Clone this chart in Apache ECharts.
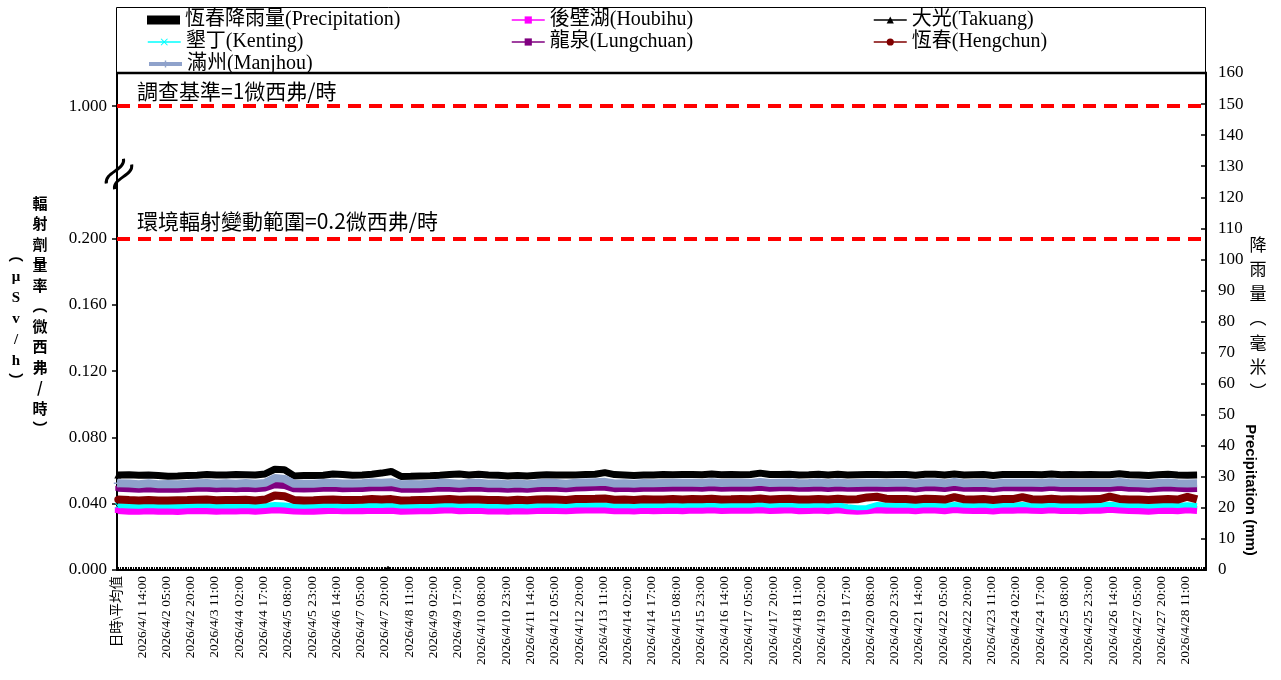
<!DOCTYPE html>
<html><head><meta charset="utf-8">
<script src="https://cdn.jsdelivr.net/npm/echarts@6/dist/echarts.min.js"></script>
<style>html,body{margin:0;padding:0;background:#fff}#c{width:1281px;height:680px}</style>
</head><body><div id="c"></div>
<script>
// ---------- categories / tick labels ----------
const firstCategory = '日時\\平均值';
const yearMonth = '2026/4/';
const days = [1,2,3,4,5,6,7,8,9,10,11,12,13,14,15,16,17,18,19,20,21,22,23,24,25,26,27,28];
const hourLabels = ['00:00','01:00','02:00','03:00','04:00','05:00','06:00','07:00','08:00','09:00','10:00','11:00',
  '12:00','13:00','14:00','15:00','16:00','17:00','18:00','19:00','20:00','21:00','22:00','23:00'];
const sampleHours = ['00:00','06:00','12:00','18:00'];
const leftTickValues = [0,40,80,120,160,200,280];          // nSv/h positions of left ticks (280 = broken-axis "1.000")
const leftTickLabels = ['0.000','0.040','0.080','0.120','0.160','0.200','1.000'];

// ---------- series names ----------
const nameRain = '恆春降雨量(Precipitation)';
const nameHoubihu = '後壁湖(Houbihu)';
const nameTakuang = '大光(Takuang)';
const nameKenting = '墾丁(Kenting)';
const nameLungchuan = '龍泉(Lungchuan)';
const nameHengchun = '恆春(Hengchun)';
const nameManjhou = '滿州(Manjhou)';

// ---------- values (nSv/h, i.e. µSv/h × 1000), 4 readings per day 4/1 … 4/28 ----------
const avgValues = [36.2, 57.4, 39.0, 49.3, 42.6, 52.4]; // Houbihu, Takuang, Kenting, Lungchuan, Hengchun, Manjhou
const houbihu = [
36.0,35.8,35.7,36.1, 35.8,35.9,35.6,36.0, 36.2,36.1,35.8,36.0, 35.9,36.2,35.8,36.2, 36.6,36.4,35.9,35.7,
35.8,36.1,36.3,36.0, 36.0,36.1,36.4,36.2, 36.4,35.8,35.9,36.1, 36.0,36.4,36.6,36.1, 36.2,36.3,35.9,36.0,
35.8,36.1,35.9,36.2, 36.4,36.2,36.0,36.4, 36.5,36.6,36.5,36.0, 36.2,35.9,36.3,36.1, 36.2,36.4,36.1,36.5,
36.3,36.6,36.2,36.3, 36.5,36.3,36.7,36.2, 36.4,36.6,36.1,36.2, 36.5,36.1,36.6,36.0, 35.8,36.0,36.7,36.4,
36.3,36.5,36.0,36.6, 36.5,36.1,36.8,36.3, 36.2,36.4,35.9,36.5, 36.4,36.7,36.3,36.2, 36.6,36.2,36.3,36.1,
36.3,36.4,36.9,36.5, 36.2,36.1,35.8,36.2, 36.4,36.1,36.6,36.2];
const takuang = [
57.6,57.5,57.2,57.3, 57.0,56.6,56.7,57.0, 57.2,57.6,57.3,57.4, 57.6,57.5,57.4,58.0, 60.8,60.5,56.8,57.0,
57.0,57.2,58.0,57.6, 57.2,57.4,57.8,58.5, 59.5,56.5,56.6,56.8, 56.9,57.2,57.6,58.0, 57.3,57.8,57.3,57.2,
56.8,57.1,56.7,57.2, 57.5,57.4,57.3,57.4, 57.6,57.8,58.8,57.6, 57.4,57.0,57.3,57.4, 57.6,57.5,57.6,57.7,
57.5,57.9,57.5,57.6, 57.5,57.6,58.5,57.6, 57.7,57.8,57.4,57.5, 57.8,57.3,57.8,57.4, 57.5,57.6,57.6,57.5,
57.6,57.7,57.2,57.8, 57.8,57.3,57.9,57.4, 57.5,57.6,57.1,57.7, 57.7,57.6,57.6,57.5, 58.0,57.5,57.6,57.5,
57.6,57.5,57.5,58.1, 57.5,57.4,57.0,57.5, 57.8,57.4,57.2,57.3];
const kenting = [
38.8,38.6,38.5,38.9, 38.6,38.7,38.5,38.8, 39.0,38.9,38.6,38.8, 38.7,39.0,38.6,39.0, 39.5,39.2,38.7,38.5,
38.6,38.9,39.0,38.7, 38.8,38.9,39.1,39.0, 39.2,38.6,38.7,38.9, 38.8,39.2,39.4,38.9, 39.0,39.1,38.7,38.8,
38.6,38.9,38.7,39.0, 39.2,39.0,38.8,39.2, 39.3,39.4,39.3,38.8, 39.0,38.7,39.1,38.9, 39.0,39.2,38.9,39.3,
39.1,39.4,39.0,39.1, 39.3,39.1,39.5,39.0, 39.2,39.4,38.9,39.0, 39.3,38.9,39.4,38.2, 37.6,37.8,39.5,39.2,
39.1,39.3,38.8,39.4, 39.3,38.9,39.6,39.1, 39.0,39.2,38.7,39.3, 39.2,39.5,39.1,39.0, 39.4,39.0,39.1,38.9,
39.1,39.2,39.7,39.3, 39.0,38.9,38.6,39.0, 39.2,38.9,39.4,39.0];
const lungchuan = [
49.2,49.0,48.8,49.1, 48.8,48.9,48.7,49.0, 49.3,49.4,49.0,49.3, 49.0,49.4,49.0,49.5, 51.5,51.0,49.0,48.9,
49.0,49.4,49.5,49.1, 49.2,49.2,49.6,49.6, 49.8,48.8,48.9,48.8, 49.0,49.5,49.4,49.0, 49.4,49.5,49.0,49.1,
48.8,49.1,48.7,49.2, 49.5,49.4,49.0,49.5, 49.7,49.9,50.0,49.1, 49.3,49.0,49.4,49.3, 49.4,49.5,49.5,49.6,
49.4,49.8,49.4,49.5, 49.6,49.5,50.0,49.4, 49.6,49.7,49.3,49.4, 49.7,49.2,49.7,49.3, 49.4,49.5,49.5,49.4,
49.5,49.6,49.1,49.7, 49.7,49.2,50.0,49.3, 49.4,49.5,49.0,49.6, 49.6,49.5,49.5,49.4, 49.9,49.4,49.5,49.4,
49.5,49.4,49.4,50.0, 49.4,49.3,48.9,49.4, 49.7,49.3,49.1,49.2];
const hengchun = [
42.4,42.2,42.0,42.3, 42.0,41.9,42.1,42.2, 42.4,42.5,42.1,42.3, 42.2,42.4,42.0,42.5, 45.0,44.5,42.3,42.0,
42.1,42.4,42.6,42.3, 42.2,42.4,42.8,42.6, 42.8,42.0,42.1,42.3, 42.2,42.6,42.9,42.4, 42.5,42.6,42.2,42.3,
42.0,42.4,42.1,42.5, 42.7,42.5,42.3,42.8, 42.9,43.0,43.2,42.4, 42.6,42.2,42.7,42.5, 42.6,42.8,42.5,42.9,
42.7,43.0,42.6,42.7, 42.9,42.7,43.2,42.6, 42.8,43.0,42.5,42.6, 42.9,42.5,43.0,42.6, 42.7,43.8,44.2,43.0,
42.8,42.9,42.4,43.0, 42.9,42.5,44.0,42.7, 42.6,42.8,42.3,42.9, 42.8,44.0,42.7,42.6, 43.0,42.6,42.7,42.5,
42.7,42.8,44.3,42.9, 42.6,42.5,42.2,42.6, 42.8,42.5,44.2,42.6];
const manjhou = [
52.4,52.2,51.8,52.3, 51.8,51.9,51.8,52.0, 52.4,52.5,52.0,52.4, 52.1,52.5,52.0,52.6, 55.5,55.0,52.0,52.0,
52.0,52.5,52.6,52.2, 52.2,52.3,52.8,52.7, 53.0,51.8,51.9,51.8, 52.0,52.6,52.5,52.0, 52.5,52.6,52.1,52.2,
51.8,52.2,51.7,52.3, 52.6,52.5,52.1,52.6, 52.8,53.0,53.2,52.2, 52.4,52.0,52.5,52.4, 52.5,52.6,52.6,52.7,
52.5,52.9,52.5,52.6, 52.7,52.6,53.2,52.5, 52.7,52.8,52.4,52.5, 52.8,52.3,52.8,52.4, 52.5,52.6,52.6,52.5,
52.6,52.7,52.2,52.8, 52.8,52.3,53.2,52.4, 52.5,52.6,52.1,52.7, 52.7,52.6,52.6,52.5, 53.0,52.5,52.6,52.5,
52.6,52.5,52.5,53.1, 52.5,52.4,52.0,52.5, 52.8,52.4,52.2,52.3];
// precipitation (mm), Hengchun
const rainTimes = ['2026/4/5 04:00','2026/4/5 05:00','2026/4/7 21:00','2026/4/7 22:00'];
const rainValues = [0.3, 0.5, 0.8, 1.2];

// reference lines (left axis positions, nSv/h scale)
const refLineValues = [280, 200];
const refLineTexts = ['調查基準=1微西弗/時', '環境輻射變動範圍=0.2微西弗/時'];

// ---------- build category axis and data pairs ----------
const categories = [firstCategory];
days.forEach(d => hourLabels.forEach(h => categories.push(yearMonth + d + ' ' + h)));
function pairs(values, avg) {
  const out = [[firstCategory, avg]];
  values.forEach((v, i) => {
    out.push([yearMonth + days[Math.floor(i / sampleHours.length)] + ' ' + sampleHours[i % sampleHours.length], v]);
  });
  return out;
}
const rainData = rainTimes.map((t, i) => [t, rainValues[i]]);

const SERIF = "'Liberation Serif', 'Noto Sans CJK TC', serif";
const CJK = "'Noto Sans CJK TC', sans-serif";
const plusPath = 'path://M4,0H6V4H10V6H6V10H4V6H0V4H4Z';
const xPath = 'path://M1,0L5,4L9,0L10,1L6,5L10,9L9,10L5,6L1,10L0,9L4,5L0,1Z';

function lineSeries(name, data, color, symbol, symbolSize, width, z) {
  return {
    name, type: 'line', xAxisIndex: 0, yAxisIndex: 0, data,
    symbol, symbolSize, showSymbol: true, z,
    lineStyle: { color, width }, itemStyle: { color },
    emphasis: { disabled: true }
  };
}

const series = [
  { name: nameRain, type: 'bar', yAxisIndex: 1, data: rainData, barWidth: 2,
    itemStyle: { color: '#000' }, z: 2, emphasis: { disabled: true } },
  Object.assign(lineSeries(nameHoubihu, pairs(houbihu, avgValues[0]), '#FF00FF', 'rect', 6, 8, 3), {
    markLine: {
      silent: true, symbol: ['none', 'none'], label: { show: false }, animation: false,
      lineStyle: { color: '#FF0000', width: 4, type: [13, 8] },
      data: refLineValues.map(v => ({ yAxis: v }))
    }
  }),
  lineSeries(nameTakuang, pairs(takuang, avgValues[1]), '#000000', 'triangle', 7, 7, 4),
  lineSeries(nameKenting, pairs(kenting, avgValues[2]), '#00FFFF', xPath, 6, 5, 5),
  lineSeries(nameLungchuan, pairs(lungchuan, avgValues[3]), '#800080', 'rect', 5, 7, 6),
  lineSeries(nameHengchun, pairs(hengchun, avgValues[4]), '#800000', 'circle', 7, 8, 7),
  lineSeries(nameManjhou, pairs(manjhou, avgValues[5]), '#8FA2CB', plusPath, 8, 8, 8)
];

// legends laid out as in the reference (3 columns, 3 rows)
const legendCols = [147, 511, 873];
const legendRows = [18, 40, 62];
const legendOrder = [nameRain, nameHoubihu, nameTakuang, nameKenting, nameLungchuan, nameHengchun, nameManjhou];
const legends = legendOrder.map((n, i) => {
  const item = { name: n };
  if (n === nameRain) item.icon = 'rect';
  if (n === nameManjhou) item.lineStyle = { width: 4 };
  else if (n !== nameRain) item.lineStyle = { width: 1.5 };
  return {
    data: [item], left: legendCols[i % 3], top: legendRows[Math.floor(i / 3)] - 8,
    padding: 0, itemWidth: 33, itemHeight: 9, selectedMode: false,
    textStyle: { fontFamily: SERIF, fontSize: 20, color: '#000' }
  };
});

const chart = echarts.init(document.getElementById('c'), null, { renderer: 'canvas' });
chart.setOption({
  animation: false,
  backgroundColor: '#fff',
  legend: legends,
  grid: { left: 117, right: 75, top: 73, bottom: 110, containLabel: false },
  xAxis: {
    type: 'category', data: categories, boundaryGap: true,
    axisLine: { lineStyle: { color: '#000', width: 2 } },
    axisTick: { show: true, interval: 0, inside: true, length: 3, lineStyle: { color: '#000', width: 1 } },
    axisLabel: { interval: 14, rotate: 90, fontSize: 13.5, fontFamily: SERIF, color: '#000', margin: 6 },
    splitLine: { show: false }
  },
  yAxis: [
    {
      type: 'value', min: 0, max: 300, position: 'left',
      axisLine: { show: true, lineStyle: { color: '#000', width: 2 } },
      axisTick: { show: true, customValues: leftTickValues, length: 5, lineStyle: { color: '#000', width: 1.5 } },
      axisLabel: {
        customValues: leftTickValues, color: '#000', fontSize: 17, fontFamily: SERIF, margin: 10,
        formatter: v => leftTickLabels[leftTickValues.indexOf(v)] || ''
      },
      splitLine: { show: false }
    },
    {
      type: 'value', min: 0, max: 160, interval: 10, position: 'right',
      axisLine: { show: true, lineStyle: { color: '#000', width: 2 } },
      axisTick: { show: true, inside: true, length: 5, lineStyle: { color: '#000', width: 1.5 } },
      axisLabel: { color: '#000', fontSize: 17, fontFamily: SERIF, margin: 12 },
      splitLine: { show: false }
    }
  ],
  series,
  graphic: [
    // legend frame and top border of the plot
    { type: 'rect', z: 0, silent: true, shape: { x: 116.5, y: 7.5, width: 1089, height: 65 },
      style: { fill: 'none', stroke: '#000', lineWidth: 1 } },
    { type: 'line', z: 10, silent: true, shape: { x1: 116, y1: 73, x2: 1207, y2: 73 },
      style: { stroke: '#000', lineWidth: 2.5 } },
    // reference-line captions
    { type: 'text', z: 10, silent: true, x: 137, y: 91,
      style: { text: refLineTexts[0], fontSize: 21, fontFamily: CJK, fill: '#000', textVerticalAlign: 'middle' } },
    { type: 'text', z: 10, silent: true, x: 137, y: 221,
      style: { text: refLineTexts[1], fontSize: 21, fontFamily: CJK, fill: '#000', textVerticalAlign: 'middle' } },
    // axis break mark
    { type: 'group', x: 119, y: 174, rotation: Math.PI * 55 / 180, z: 20, silent: true,
      children: [
        { type: 'rect', shape: { x: -13, y: -5, width: 26, height: 10 }, style: { fill: '#fff' } },
        { type: 'bezierCurve', shape: { x1: -15, y1: -5, cpx1: -7, cpy1: -13, cpx2: 7, cpy2: 3, x2: 15, y2: -5 },
          style: { stroke: '#000', lineWidth: 3, fill: 'none' } },
        { type: 'bezierCurve', shape: { x1: -15, y1: 5, cpx1: -7, cpy1: -3, cpx2: 7, cpy2: 13, x2: 15, y2: 5 },
          style: { stroke: '#000', lineWidth: 3, fill: 'none' } }
      ] },
    // left axis titles (vertical)
    { type: 'text', z: 10, silent: true, x: 40, y: 193,
      style: { text: '輻\n射\n劑\n量\n率\n︵\n微\n西\n弗\n/\n時\n︶', fontSize: 15, fontWeight: 'bold',
        fontFamily: CJK, fill: '#000', textAlign: 'center', lineHeight: 20.5 } },
    { type: 'text', z: 10, silent: true, x: 16, y: 246,
      style: { text: '︵\nμ\nS\nv\n/\nh\n︶', fontSize: 15, fontWeight: 'bold',
        fontFamily: SERIF, fill: '#000', textAlign: 'center', lineHeight: 21 } },
    // right axis titles
    { type: 'text', z: 10, silent: true, x: 1258, y: 232,
      style: { text: '降\n雨\n量\n︵\n毫\n米\n︶', fontSize: 17,
        fontFamily: CJK, fill: '#000', textAlign: 'center', lineHeight: 24.5 } },
    { type: 'text', z: 10, silent: true, x: 1250, y: 490, rotation: -Math.PI / 2,
      style: { text: 'Precipitation (mm)', fontSize: 15, fontWeight: 'bold',
        fontFamily: "'Liberation Sans', Arial, sans-serif", fill: '#000', textAlign: 'center', textVerticalAlign: 'middle' } }
  ]
});
</script></body></html>
